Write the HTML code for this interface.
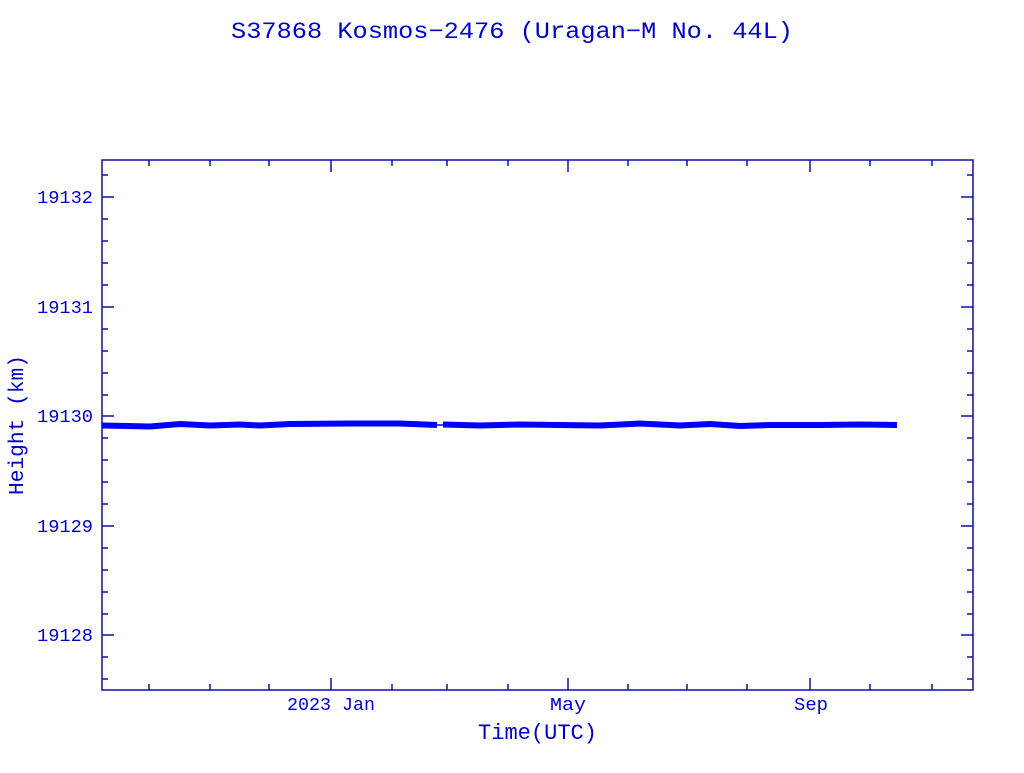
<!DOCTYPE html>
<html><head><style>
body{margin:0;background:#fff;}
svg text{font-family:"Liberation Mono",monospace;fill:#0000c8;}
</style></head><body>
<svg width="1024" height="768" xmlns="http://www.w3.org/2000/svg">
<text x="231" y="38" font-size="23" textLength="562" lengthAdjust="spacingAndGlyphs">S37868 Kosmos−2476  (Uragan−M No. 44L)</text>
<g stroke="#1010a0" stroke-width="1.5" fill="none">
<rect x="102" y="160" width="871" height="530"/>
<path d="M102 197h12M973 197h-12M102 307h12M973 307h-12M102 416h12M973 416h-12M102 526h12M973 526h-12M102 635h12M973 635h-12"/>
<path d="M102 175h6M102 219h6M102 241h6M102 263h6M102 285h6M102 329h6M102 351h6M102 373h6M102 395h6M102 438h6M102 460h6M102 482h6M102 504h6M102 548h6M102 570h6M102 592h6M102 614h6M102 657h6M102 679h6
M973 175h-6M973 219h-6M973 241h-6M973 263h-6M973 285h-6M973 329h-6M973 351h-6M973 373h-6M973 395h-6M973 438h-6M973 460h-6M973 482h-6M973 504h-6M973 548h-6M973 570h-6M973 592h-6M973 614h-6M973 657h-6M973 679h-6"/>
<path d="M331 690v-12M568 690v-12M810 690v-12M331 160v12M568 160v12M810 160v12"/>
<path d="M149 690v-6M210 690v-6M269 690v-6M392 690v-6M447 690v-6M508 690v-6M628 690v-6M687 690v-6M747 690v-6M870 690v-6M932 690v-6
M149 160v6M210 160v6M269 160v6M392 160v6M447 160v6M508 160v6M628 160v6M687 160v6M747 160v6M870 160v6M932 160v6"/>
</g>
<g font-size="18">
<text x="37" y="203" textLength="56" lengthAdjust="spacingAndGlyphs">19132</text>
<text x="37" y="313" textLength="56" lengthAdjust="spacingAndGlyphs">19131</text>
<text x="37" y="422" textLength="56" lengthAdjust="spacingAndGlyphs">19130</text>
<text x="37" y="532" textLength="56" lengthAdjust="spacingAndGlyphs">19129</text>
<text x="37" y="641" textLength="56" lengthAdjust="spacingAndGlyphs">19128</text>
<text x="287" y="710" textLength="88" lengthAdjust="spacingAndGlyphs">2023 Jan</text>
<text x="550" y="710" textLength="36" lengthAdjust="spacingAndGlyphs">May</text>
<text x="794" y="710" textLength="34" lengthAdjust="spacingAndGlyphs">Sep</text>
</g>
<text x="478" y="739" font-size="22" textLength="119" lengthAdjust="spacingAndGlyphs">Time(UTC)</text>
<text transform="translate(23,495) rotate(-90)" font-size="21" textLength="140" lengthAdjust="spacingAndGlyphs">Height (km)</text>
<path d="M102 425.5 L150 426.5 L180 424 L210 425.5 L240 424.5 L260 425.5 L290 424 L350 423.5 L400 423.5 L437 425" stroke="#0000ff" stroke-width="6" fill="none"/>
<path d="M437 425 L443 425" stroke="#0000ff" stroke-width="1.5"/>
<path d="M443 424.5 L480 425.5 L520 424.5 L560 425 L600 425.5 L640 423.5 L680 425.5 L710 424 L740 426 L770 425 L820 425 L860 424.5 L897 425" stroke="#0000ff" stroke-width="6" fill="none"/>
</svg>
</body></html>
